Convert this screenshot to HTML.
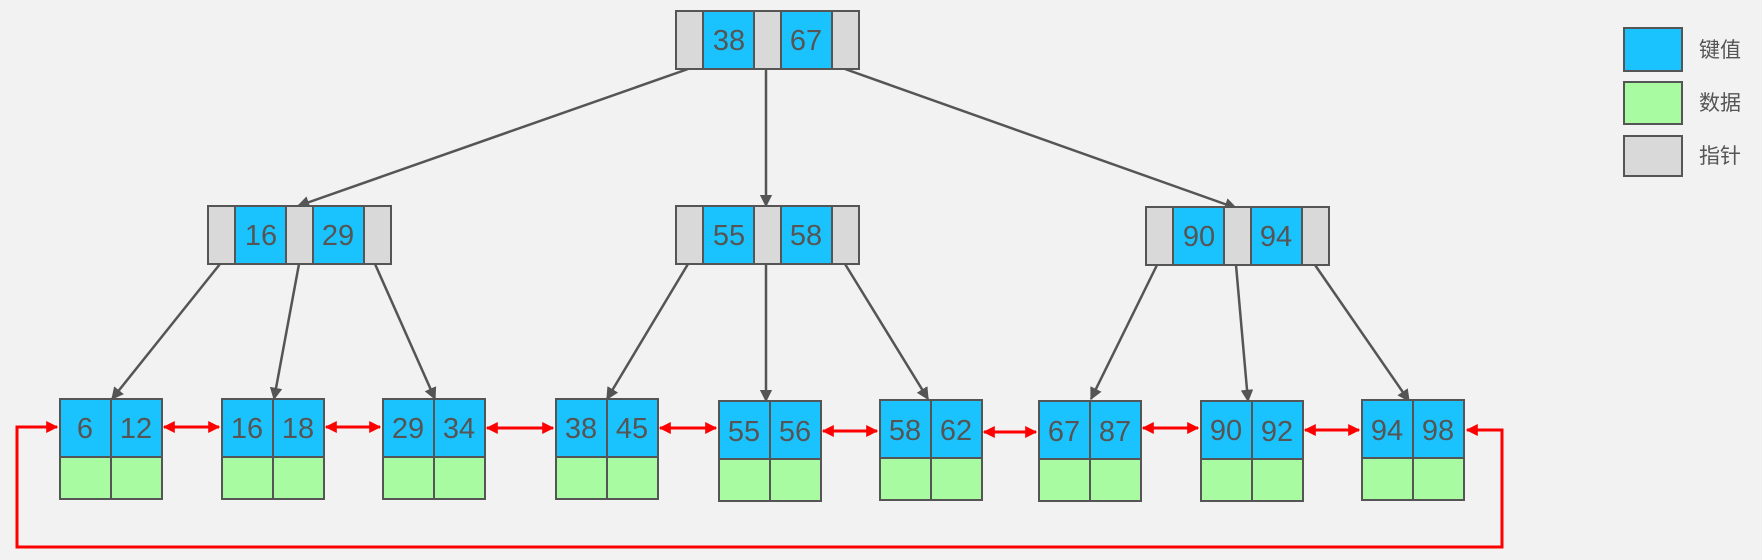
<!DOCTYPE html>
<html><head><meta charset="utf-8"><style>
body{margin:0;background:#f2f2f2}
svg{display:block}
text{font-family:"Liberation Sans",sans-serif;fill:#555}
</style></head><body>
<svg width="1762" height="560" viewBox="0 0 1762 560" xmlns="http://www.w3.org/2000/svg">
<defs>
<marker id="g" viewBox="0 0 10 10" refX="9" refY="5" markerWidth="5" markerHeight="5" orient="auto"><path d="M0,0L10,5L0,10z" fill="#555"/></marker>
<marker id="r" viewBox="0 0 10 10" refX="9" refY="5" markerWidth="4" markerHeight="4" orient="auto-start-reverse"><path d="M0,0L10,5L0,10z" fill="#f00"/></marker>
</defs>
<g stroke="#555" stroke-width="2.5" marker-end="url(#g)">
<line x1="688" y1="69" x2="298" y2="206"/>
<line x1="766" y1="69" x2="766" y2="206"/>
<line x1="845" y1="69" x2="1236" y2="208"/>
<line x1="220" y1="264" x2="112" y2="399"/>
<line x1="299" y1="264" x2="274" y2="399"/>
<line x1="375" y1="264" x2="435" y2="399"/>
<line x1="688" y1="264" x2="607" y2="399"/>
<line x1="766" y1="264" x2="766" y2="401"/>
<line x1="845" y1="264" x2="928" y2="399"/>
<line x1="1157" y1="265" x2="1091" y2="399"/>
<line x1="1236" y1="265" x2="1248" y2="401"/>
<line x1="1315" y1="265" x2="1409" y2="401"/>
</g>
<g stroke="#555" stroke-width="2">
<g transform="translate(676,11)"><rect width="27" height="58" fill="#d9d9d9"/><rect x="27" width="51" height="58" fill="#1ac3fd"/><rect x="78" width="27" height="58" fill="#d9d9d9"/><rect x="105" width="51" height="58" fill="#1ac3fd"/><rect x="156" width="27" height="58" fill="#d9d9d9"/></g>
<g transform="translate(208,206)"><rect width="27" height="58" fill="#d9d9d9"/><rect x="27" width="51" height="58" fill="#1ac3fd"/><rect x="78" width="27" height="58" fill="#d9d9d9"/><rect x="105" width="51" height="58" fill="#1ac3fd"/><rect x="156" width="27" height="58" fill="#d9d9d9"/></g>
<g transform="translate(676,206)"><rect width="27" height="58" fill="#d9d9d9"/><rect x="27" width="51" height="58" fill="#1ac3fd"/><rect x="78" width="27" height="58" fill="#d9d9d9"/><rect x="105" width="51" height="58" fill="#1ac3fd"/><rect x="156" width="27" height="58" fill="#d9d9d9"/></g>
<g transform="translate(1146,207)"><rect width="27" height="58" fill="#d9d9d9"/><rect x="27" width="51" height="58" fill="#1ac3fd"/><rect x="78" width="27" height="58" fill="#d9d9d9"/><rect x="105" width="51" height="58" fill="#1ac3fd"/><rect x="156" width="27" height="58" fill="#d9d9d9"/></g>
<rect x="1624" y="28" width="58" height="43" fill="#1ac3fd"/>
<rect x="1624" y="82" width="58" height="42" fill="#a8fba0"/>
<rect x="1624" y="136" width="58" height="40" fill="#d9d9d9"/>
</g>
<g stroke="#555" stroke-width="2">
<g transform="translate(60,399)"><rect width="51" height="58" fill="#1ac3fd"/><rect x="51" width="51" height="58" fill="#1ac3fd"/><rect y="58" width="51" height="42" fill="#a8fba0"/><rect x="51" y="58" width="51" height="42" fill="#a8fba0"/></g>
<g transform="translate(222,399)"><rect width="51" height="58" fill="#1ac3fd"/><rect x="51" width="51" height="58" fill="#1ac3fd"/><rect y="58" width="51" height="42" fill="#a8fba0"/><rect x="51" y="58" width="51" height="42" fill="#a8fba0"/></g>
<g transform="translate(383,399)"><rect width="51" height="58" fill="#1ac3fd"/><rect x="51" width="51" height="58" fill="#1ac3fd"/><rect y="58" width="51" height="42" fill="#a8fba0"/><rect x="51" y="58" width="51" height="42" fill="#a8fba0"/></g>
<g transform="translate(556,399)"><rect width="51" height="58" fill="#1ac3fd"/><rect x="51" width="51" height="58" fill="#1ac3fd"/><rect y="58" width="51" height="42" fill="#a8fba0"/><rect x="51" y="58" width="51" height="42" fill="#a8fba0"/></g>
<g transform="translate(719,401)"><rect width="51" height="58" fill="#1ac3fd"/><rect x="51" width="51" height="58" fill="#1ac3fd"/><rect y="58" width="51" height="42" fill="#a8fba0"/><rect x="51" y="58" width="51" height="42" fill="#a8fba0"/></g>
<g transform="translate(880,400)"><rect width="51" height="58" fill="#1ac3fd"/><rect x="51" width="51" height="58" fill="#1ac3fd"/><rect y="58" width="51" height="42" fill="#a8fba0"/><rect x="51" y="58" width="51" height="42" fill="#a8fba0"/></g>
<g transform="translate(1039,401)"><rect width="51" height="58" fill="#1ac3fd"/><rect x="51" width="51" height="58" fill="#1ac3fd"/><rect y="58" width="51" height="42" fill="#a8fba0"/><rect x="51" y="58" width="51" height="42" fill="#a8fba0"/></g>
<g transform="translate(1201,401)"><rect width="51" height="58" fill="#1ac3fd"/><rect x="51" width="51" height="58" fill="#1ac3fd"/><rect y="58" width="51" height="42" fill="#a8fba0"/><rect x="51" y="58" width="51" height="42" fill="#a8fba0"/></g>
<g transform="translate(1362,400)"><rect width="51" height="58" fill="#1ac3fd"/><rect x="51" width="51" height="58" fill="#1ac3fd"/><rect y="58" width="51" height="42" fill="#a8fba0"/><rect x="51" y="58" width="51" height="42" fill="#a8fba0"/></g>
</g>
<g stroke="#f00" stroke-width="3" fill="none" marker-start="url(#r)" marker-end="url(#r)">
<line x1="164" y1="427" x2="219" y2="427"/>
<line x1="326" y1="427" x2="380" y2="427"/>
<line x1="487" y1="428" x2="553" y2="428"/>
<line x1="660" y1="428" x2="716" y2="428"/>
<line x1="823" y1="431" x2="877" y2="431"/>
<line x1="984" y1="432" x2="1036" y2="432"/>
<line x1="1143" y1="428" x2="1198" y2="428"/>
<line x1="1305" y1="430" x2="1359" y2="430"/>
<polyline points="1467,430 1502,430 1502,547 17,547 17,427 57,427"/>
</g>
<g font-size="29" text-anchor="middle">
<text x="729" y="50">38</text><text x="806" y="50">67</text>
<text x="261" y="245">16</text><text x="338" y="245">29</text>
<text x="729" y="245">55</text><text x="806" y="245">58</text>
<text x="1199" y="246">90</text><text x="1276" y="246">94</text>
<text x="85" y="438">6</text><text x="136" y="438">12</text>
<text x="247" y="438">16</text><text x="298" y="438">18</text>
<text x="408" y="438">29</text><text x="459" y="438">34</text>
<text x="581" y="438">38</text><text x="632" y="438">45</text>
<text x="744" y="441">55</text><text x="795" y="441">56</text>
<text x="905" y="440">58</text><text x="956" y="440">62</text>
<text x="1064" y="441">67</text><text x="1115" y="441">87</text>
<text x="1226" y="440">90</text><text x="1277" y="441">92</text>
<text x="1387" y="440">94</text><text x="1438" y="440">98</text>
</g>
<g font-size="21">
<text x="1699" y="57" style="font-family:'Liberation Sans','Noto Sans CJK SC',sans-serif">键值</text>
<text x="1699" y="110" style="font-family:'Liberation Sans','Noto Sans CJK SC',sans-serif">数据</text>
<text x="1699" y="163" style="font-family:'Liberation Sans','Noto Sans CJK SC',sans-serif">指针</text>
</g>
</svg>
</body></html>
